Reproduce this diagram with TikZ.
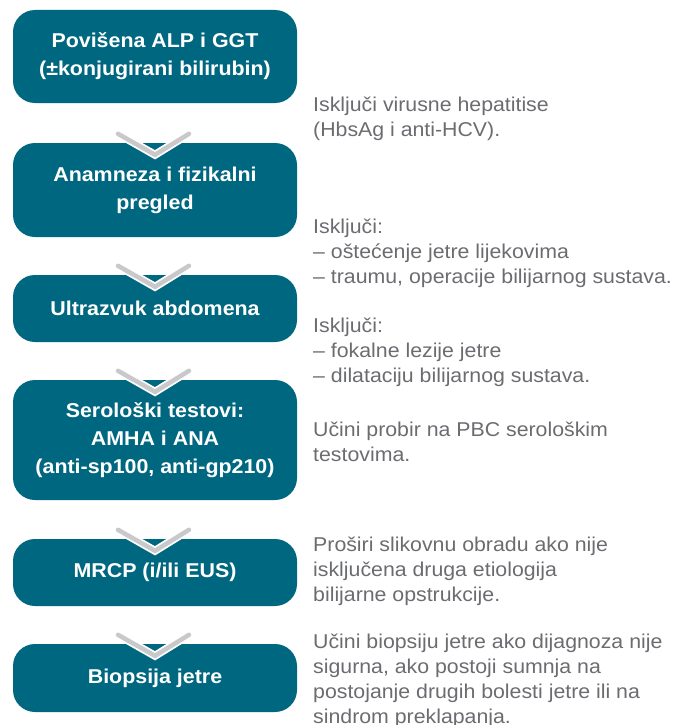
\documentclass[tikz,border=0pt]{standalone}
\usepackage{fontspec}
\setmainfont{Liberation Sans}
\newfontfamily\boxfont[FakeStretch=1.07]{Liberation Sans}
\newfontfamily\sidefont[FakeStretch=1.065]{Liberation Sans}
\definecolor{teal1}{HTML}{006780}
\definecolor{txtgray}{HTML}{6B6C70}
\definecolor{chev}{HTML}{C9C9CB}
\tikzset{
  x=1pt,y=-1pt,
  stepbox/.style={fill=teal1,rounded corners=22pt,draw=none,minimum width=284pt,
    text=white,font=\boxfont\fontsize{20}{28}\bfseries\selectfont,align=center,inner sep=0pt},
  side/.style={text=txtgray,font=\sidefont\fontsize{20}{25.3}\selectfont,align=left,anchor=base west,inner sep=0pt},
  chevw/.style={draw=white,line width=8pt,line cap=round,line join=miter},
  chevg/.style={draw=chev,line width=4.5pt,line cap=round,line join=miter},
}
\begin{document}
\begin{tikzpicture}
\useasboundingbox (0,0) rectangle (675,725);
% boxes
\node[stepbox,minimum height=93pt] (b1) at (155,56.5) {Povišena ALP i GGT\\(±konjugirani bilirubin)};
\node[stepbox,minimum height=94pt] (b2) at (155,190) {Anamneza i fizikalni\\pregled};
\node[stepbox,minimum height=67pt] (b3) at (155,308.5) {Ultrazvuk abdomena};
\node[stepbox,minimum height=120pt] (b4) at (155,440) {Serološki testovi:\\AMHA i ANA\\(anti-sp100, anti-gp210)};
\node[stepbox,minimum height=67pt] (b5) at (155,572.5) {MRCP (i/ili EUS)};
\node[stepbox,minimum height=68pt] (b6) at (155,678) {Biopsija jetre};
% chevrons between boxes
\foreach \u/\l in {b1/b2,b2/b3,b3/b4,b4/b5,b5/b6}{
  \coordinate (L) at ([shift={(-37pt,9pt)}]\l.north);
  \coordinate (A) at ([shift={(0pt,-12pt)}]\l.north);
  \coordinate (R) at ([shift={(34pt,9pt)}]\l.north);
  \draw[chevw] (L) -- (A) -- (R);
  \draw[chevg] (L) -- (A) -- (R);
}
% side texts (anchored at the baseline of their last line)
\node[side] (s1) at (313,136.3) {Isključi virusne hepatitise\\(HbsAg i anti-HCV).};
\node[side] (s2) at (313,283.6) {Isključi:\\– oštećenje jetre lijekovima\\– traumu, operacije bilijarnog sustava.};
\node[side] (s3) at (313,382.6) {Isključi:\\– fokalne lezije jetre\\– dilataciju bilijarnog sustava.};
\node[side] (s4) at (313,461.3) {Učini probir na PBC serološkim\\testovima.};
\node[side] (s5) at (313,601.6) {Proširi slikovnu obradu ako nije\\isključena druga etiologija\\bilijarne opstrukcije.};
\node[side] (s6) at (313,723.9) {Učini biopsiju jetre ako dijagnoza nije\\sigurna, ako postoji sumnja na\\postojanje drugih bolesti jetre ili na\\sindrom preklapanja.};
\end{tikzpicture}
\end{document}
